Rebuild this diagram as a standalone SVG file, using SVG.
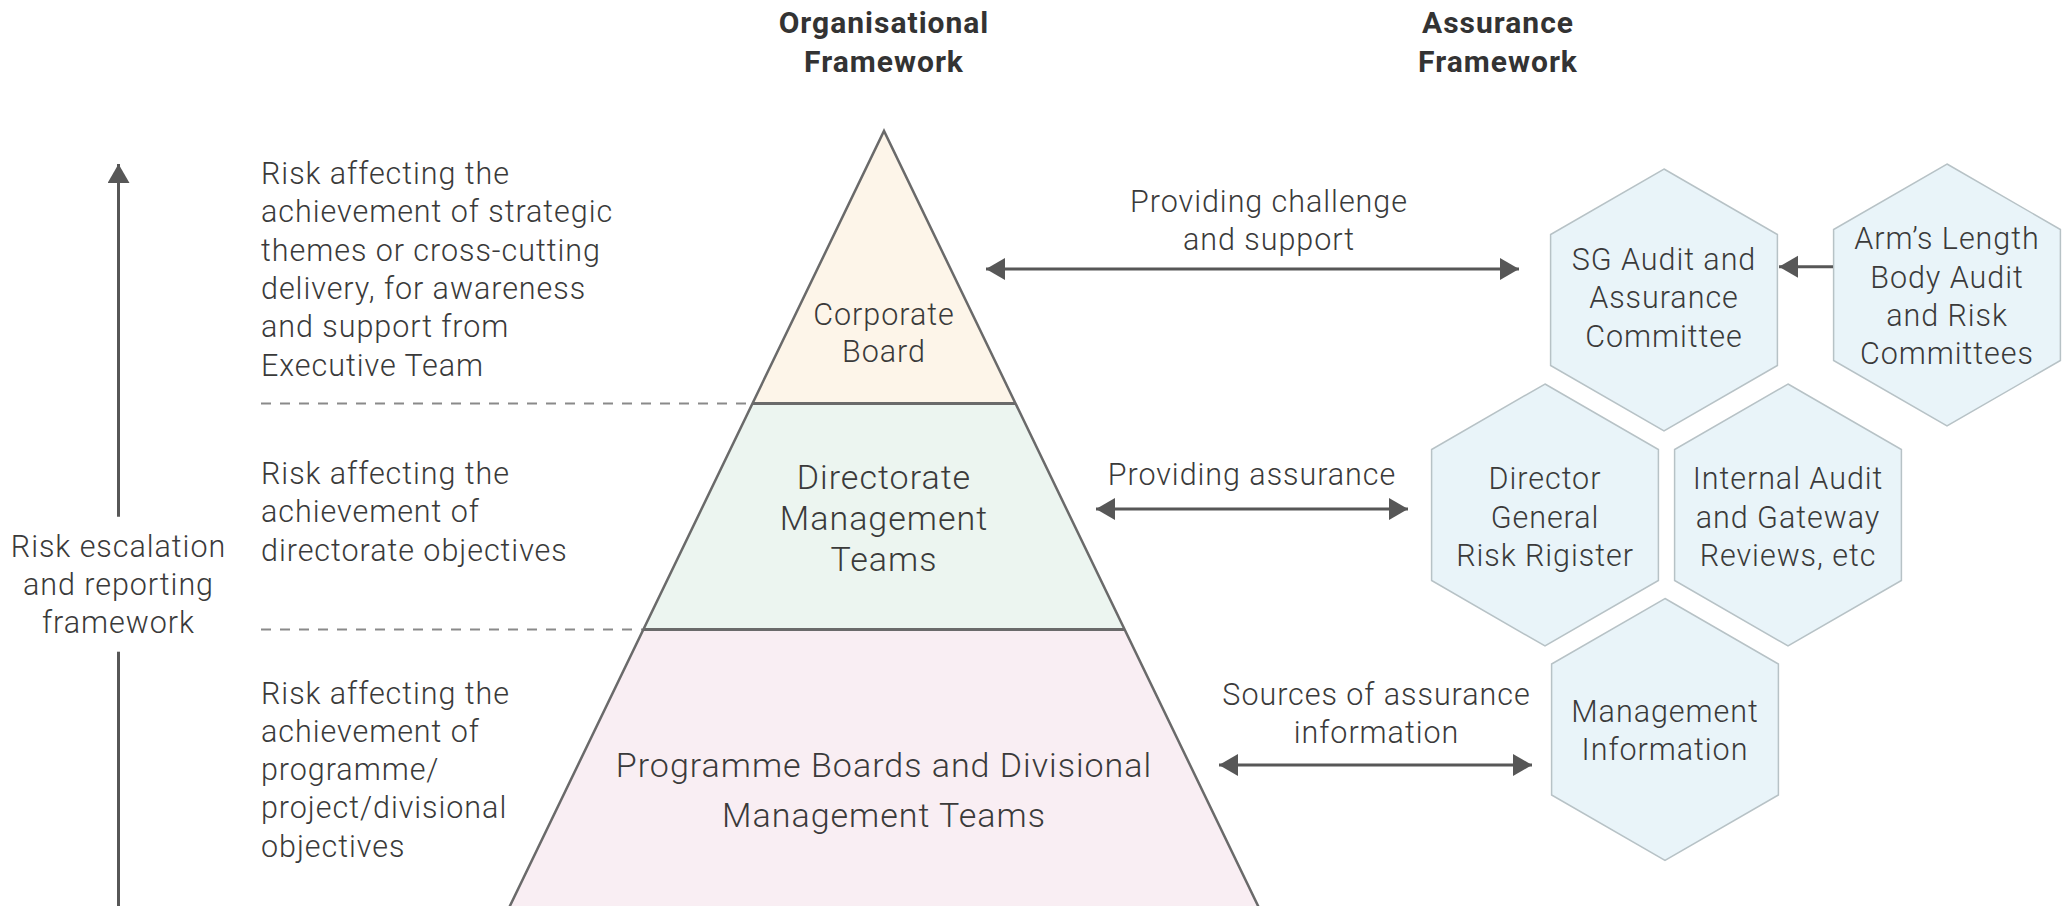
<svg xmlns="http://www.w3.org/2000/svg" width="2069" height="906" viewBox="0 0 2069 906">
  <style>
    text { font-family: Roboto, "Liberation Sans", Arial, sans-serif; font-weight: 300; fill: #3a3a3a; font-size: 30.5px; letter-spacing: 0.95px; }
    .title { font-weight: 700; font-size: 30px; letter-spacing: 1px; fill: #333333; }
    .mid { text-anchor: middle; }
    .big { font-size: 34px; letter-spacing: 1px; }
    .hex { fill: #e9f4f9; stroke: #b7c2c6; stroke-width: 1.5; }
    .edge { stroke: #6a6a6a; stroke-width: 2.5; fill: none; }
    .divider { stroke: #6a6a6a; stroke-width: 3; }
    .dash { stroke: #8a8a8a; stroke-width: 2; stroke-dasharray: 10 9; }
    .conn { stroke: #575757; stroke-width: 3; fill: none; }
  </style>
  <defs>
    <polygon id="hexagon" points="0,-131 113.4,-65.5 113.4,65.5 0,131 -113.4,65.5 -113.4,-65.5"/>
    <!-- filled arrowhead; its tip sits on the line end -->
    <marker id="head" markerUnits="userSpaceOnUse" markerWidth="20" markerHeight="24" refX="19" refY="11" orient="auto-start-reverse">
      <path d="M0,0 L19,11 L0,22 Z" fill="#575757"/>
    </marker>
  </defs>

  <rect width="2069" height="906" fill="#ffffff"/>

  <!-- column headings -->
  <g id="heading-organisational">
    <text class="title mid" x="884" y="33">Organisational</text>
    <text class="title mid" x="884" y="71.5">Framework</text>
  </g>
  <g id="heading-assurance">
    <text class="title mid" x="1498" y="33">Assurance</text>
    <text class="title mid" x="1498" y="71.5">Framework</text>
  </g>

  <!-- risk escalation scale on the left -->
  <g id="escalation">
    <line class="conn" x1="118.5" y1="516.7" x2="118.5" y2="164" marker-end="url(#head)"/>
    <line class="conn" x1="118.5" y1="651.7" x2="118.5" y2="906"/>
    <text class="mid" x="118.5" y="557">Risk escalation</text>
    <text class="mid" x="118.5" y="595">and reporting</text>
    <text class="mid" x="118.5" y="633">framework</text>
  </g>

  <!-- risk level descriptions -->
  <g id="risk-strategic">
    <text x="261" y="184">Risk affecting the</text>
    <text x="261" y="222.3">achievement of strategic</text>
    <text x="261" y="260.6">themes or cross-cutting</text>
    <text x="261" y="298.9">delivery, for awareness</text>
    <text x="261" y="337.2">and support from</text>
    <text x="261" y="375.5">Executive Team</text>
  </g>
  <g id="risk-directorate">
    <text x="261" y="484">Risk affecting the</text>
    <text x="261" y="522.3">achievement of</text>
    <text x="261" y="560.6">directorate objectives</text>
  </g>
  <g id="risk-programme">
    <text x="261" y="703.5">Risk affecting the</text>
    <text x="261" y="741.8">achievement of</text>
    <text x="261" y="780.1">programme/</text>
    <text x="261" y="818.4">project/divisional</text>
    <text x="261" y="856.7">objectives</text>
  </g>
  <line class="dash" x1="261" y1="403.5" x2="752" y2="403.5"/>
  <line class="dash" x1="261" y1="629.5" x2="643" y2="629.5"/>

  <!-- organisational pyramid -->
  <g id="corporate-board">
    <polygon points="884,131 1015.5,403.5 752.5,403.5" fill="#fdf5e9"/>
    <text class="mid" x="884" y="325">Corporate</text>
    <text class="mid" x="884" y="362">Board</text>
  </g>
  <g id="directorate-teams">
    <polygon points="752.5,403.5 1015.5,403.5 1124.6,629.5 643.4,629.5" fill="#ecf5f0"/>
    <text class="mid big" x="884" y="489">Directorate</text>
    <text class="mid big" x="884" y="530">Management</text>
    <text class="mid big" x="884" y="571">Teams</text>
  </g>
  <g id="programme-boards">
    <polygon points="643.4,629.5 1124.6,629.5 1261,912 507,912" fill="#f9eef3"/>
    <text class="mid big" x="884" y="777">Programme Boards and Divisional</text>
    <text class="mid big" x="884" y="827">Management Teams</text>
  </g>
  <g id="pyramid-outline">
    <polyline class="edge" points="507,912 884,131 1261,912"/>
    <line class="divider" x1="752.5" y1="403.5" x2="1015.5" y2="403.5"/>
    <line class="divider" x1="643.4" y1="629.5" x2="1124.6" y2="629.5"/>
  </g>

  <!-- assurance framework hexagons -->
  <g id="sg-audit">
    <use href="#hexagon" class="hex" x="1664" y="300"/>
    <text class="mid" x="1664" y="270">SG Audit and</text>
    <text class="mid" x="1664" y="308.3">Assurance</text>
    <text class="mid" x="1664" y="346.6">Committee</text>
  </g>
  <g id="arms-length">
    <use href="#hexagon" class="hex" x="1947" y="295"/>
    <text class="mid" x="1947" y="249.3">Arm’s Length</text>
    <text class="mid" x="1947" y="287.6">Body Audit</text>
    <text class="mid" x="1947" y="325.9">and Risk</text>
    <text class="mid" x="1947" y="364.2">Committees</text>
  </g>
  <g id="dg-register">
    <use href="#hexagon" class="hex" x="1545" y="515"/>
    <text class="mid" x="1545" y="489.3">Director</text>
    <text class="mid" x="1545" y="527.6">General</text>
    <text class="mid" x="1545" y="565.9">Risk Rigister</text>
  </g>
  <g id="internal-audit">
    <use href="#hexagon" class="hex" x="1788" y="515"/>
    <text class="mid" x="1788" y="489.3">Internal Audit</text>
    <text class="mid" x="1788" y="527.6">and Gateway</text>
    <text class="mid" x="1788" y="565.9">Reviews, etc</text>
  </g>
  <g id="management-information">
    <use href="#hexagon" class="hex" x="1665" y="729.5"/>
    <text class="mid" x="1665" y="721.7">Management</text>
    <text class="mid" x="1665" y="760">Information</text>
  </g>

  <!-- connectors between the frameworks -->
  <g id="connectors">
    <line class="conn" x1="986" y1="269" x2="1519" y2="269" marker-start="url(#head)" marker-end="url(#head)"/>
    <line class="conn" x1="1096" y1="509" x2="1408" y2="509" marker-start="url(#head)" marker-end="url(#head)"/>
    <line class="conn" x1="1219" y1="765" x2="1532" y2="765" marker-start="url(#head)" marker-end="url(#head)"/>
    <line class="conn" x1="1833" y1="266.7" x2="1779" y2="266.7" marker-end="url(#head)"/>
  </g>
  <g id="connector-labels">
    <text class="mid" x="1269" y="211.5">Providing challenge</text>
    <text class="mid" x="1269" y="249.5">and support</text>
    <text class="mid" x="1252" y="485">Providing assurance</text>
    <text class="mid" x="1376.5" y="705">Sources of assurance</text>
    <text class="mid" x="1376.5" y="743">information</text>
  </g>
</svg>
